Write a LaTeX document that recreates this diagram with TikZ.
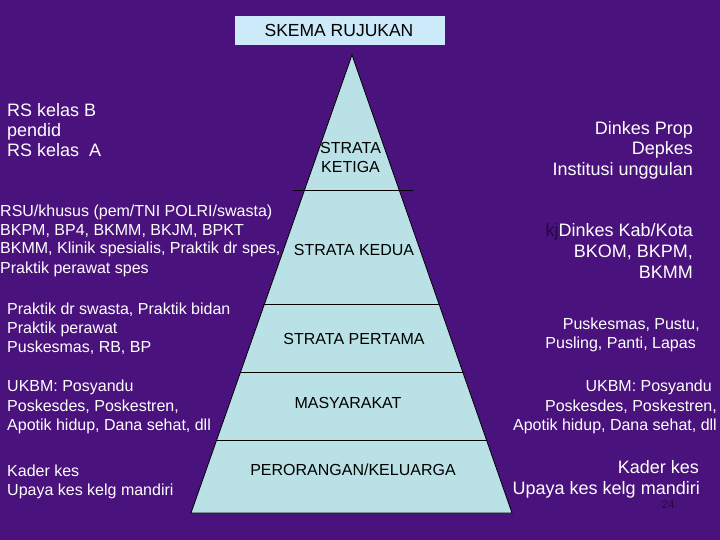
\documentclass[tikz,border=0pt]{standalone}
\usepackage{fontspec}
\setmainfont{Liberation Sans}
\definecolor{bgpurple}{RGB}{74,18,124}
\definecolor{tri}{RGB}{186,226,230}
\definecolor{titlebox}{RGB}{204,234,250}
\definecolor{darkmark}{RGB}{36,10,60}
\begin{document}
\begin{tikzpicture}[x=1pt,y=-1pt,
  wt/.style={text=white,inner sep=0pt,font=\fontsize{16}{19}\selectfont},
  wtb/.style={text=white,inner sep=0pt,font=\fontsize{18}{21}\selectfont},
  bt/.style={text=black,inner sep=0pt,font=\fontsize{16}{19}\selectfont},
  sepline/.style={draw=black,line width=0.9pt}]
\useasboundingbox (0,0) rectangle (720,540);
\fill[bgpurple] (0,0) rectangle (720,540);
% title
\fill[titlebox] (235,16) rectangle (445,45);
\node[anchor=base,inner sep=0pt,font=\fontsize{17.5}{20}\selectfont] (title) at (339,37) {SKEMA RUJUKAN};
% pyramid
\coordinate (apex) at (352,55);
\coordinate (bl) at (191,513);
\coordinate (br) at (512,513);
\filldraw[fill=tri,draw=black,line width=0.8pt] (apex) -- (br) -- (bl) -- cycle;
\draw[sepline] (293,190) -- (413,190);
\draw[sepline] (263,304) -- (439,304);
\draw[sepline] (241,372) -- (463,372);
\draw[sepline] (217,440) -- (487,440);
% pyramid labels
\node[bt,anchor=base west] (s3a) at (320,153.5) {STRATA};
\node[bt,anchor=base west] (s3b) at (321,172.5) {KETIGA};
\node[bt,anchor=base] (s2) at (354,255) {STRATA KEDUA};
\node[bt,anchor=base] (s1) at (354,344) {STRATA PERTAMA};
\node[bt,anchor=base] (s0) at (348,408) {MASYARAKAT};
\node[bt,anchor=base] (sk) at (353,475.5) {PERORANGAN/KELUARGA};
% left texts
\node[wtb,anchor=base west] (la1) at (7,117) {RS kelas B};
\node[wtb,anchor=base west] (la2) at (7,137) {pendid};
\node[wtb,anchor=base west] (la3) at (7,157) {RS kelas\ \ A};
\node[wt,anchor=base west] (lb1) at (0,217) {RSU/khusus (pem/TNI POLRI/swasta)};
\node[wt,anchor=base west] (lb2) at (0,235.5) {BKPM, BP4, BKMM, BKJM, BPKT};
\node[wt,anchor=base west] (lb3) at (0,254) {BKMM, Klinik spesialis, Praktik dr spes,};
\node[wt,anchor=base west] (lb4) at (0,273) {Praktik perawat spes};
\node[wt,anchor=base west] (lc1) at (7,314) {Praktik dr swasta, Praktik bidan};
\node[wt,anchor=base west] (lc2) at (7,333) {Praktik perawat};
\node[wt,anchor=base west] (lc3) at (7,352.5) {Puskesmas, RB, BP};
\node[wt,anchor=base west] (ld1) at (7,391.5) {UKBM: Posyandu};
\node[wt,anchor=base west] (ld2) at (7,411) {Poskesdes, Poskestren,};
\node[wt,anchor=base west] (ld3) at (7,430) {Apotik hidup, Dana sehat, dll};
\node[wt,anchor=base west] (le1) at (7,476.5) {Kader kes};
\node[wt,anchor=base west] (le2) at (7,495.5) {Upaya kes kelg mandiri};
% right texts
\node[wtb,anchor=base east] (ra1) at (693,134.5) {Dinkes Prop};
\node[wtb,anchor=base east] (ra2) at (693,155) {Depkes};
\node[wtb,anchor=base east] (ra3) at (693,175.5) {Institusi unggulan};
\node[wtb,anchor=base east] (rb1) at (693,236.5) {{\color{darkmark}kj}Dinkes Kab/Kota};
\node[wtb,anchor=base east] (rb2) at (693,258) {BKOM, BKPM,};
\node[wtb,anchor=base east] (rb3) at (693,278.5) {BKMM};
\node[wt,anchor=base east] (rc1) at (700,329) {Puskesmas, Pustu,};
\node[wt,anchor=base east] (rc2) at (696,348.5) {Pusling, Panti, Lapas};
\node[wt,anchor=base east] (rd1) at (712,391.5) {UKBM: Posyandu};
\node[wt,anchor=base east] (rd2) at (717,411) {Poskesdes, Poskestren,};
\node[wt,anchor=base east] (rd3) at (717,430) {Apotik hidup, Dana sehat, dll};
\node[wtb,anchor=base east] (re1) at (699,473) {Kader kes};
\node[wtb,anchor=base east] (re2) at (700,494) {Upaya kes kelg mandiri};
\node[anchor=base west,inner sep=0pt,text=darkmark,font=\fontsize{11}{12}\selectfont] (pg) at (662,508) {24};
\end{tikzpicture}
\end{document}
